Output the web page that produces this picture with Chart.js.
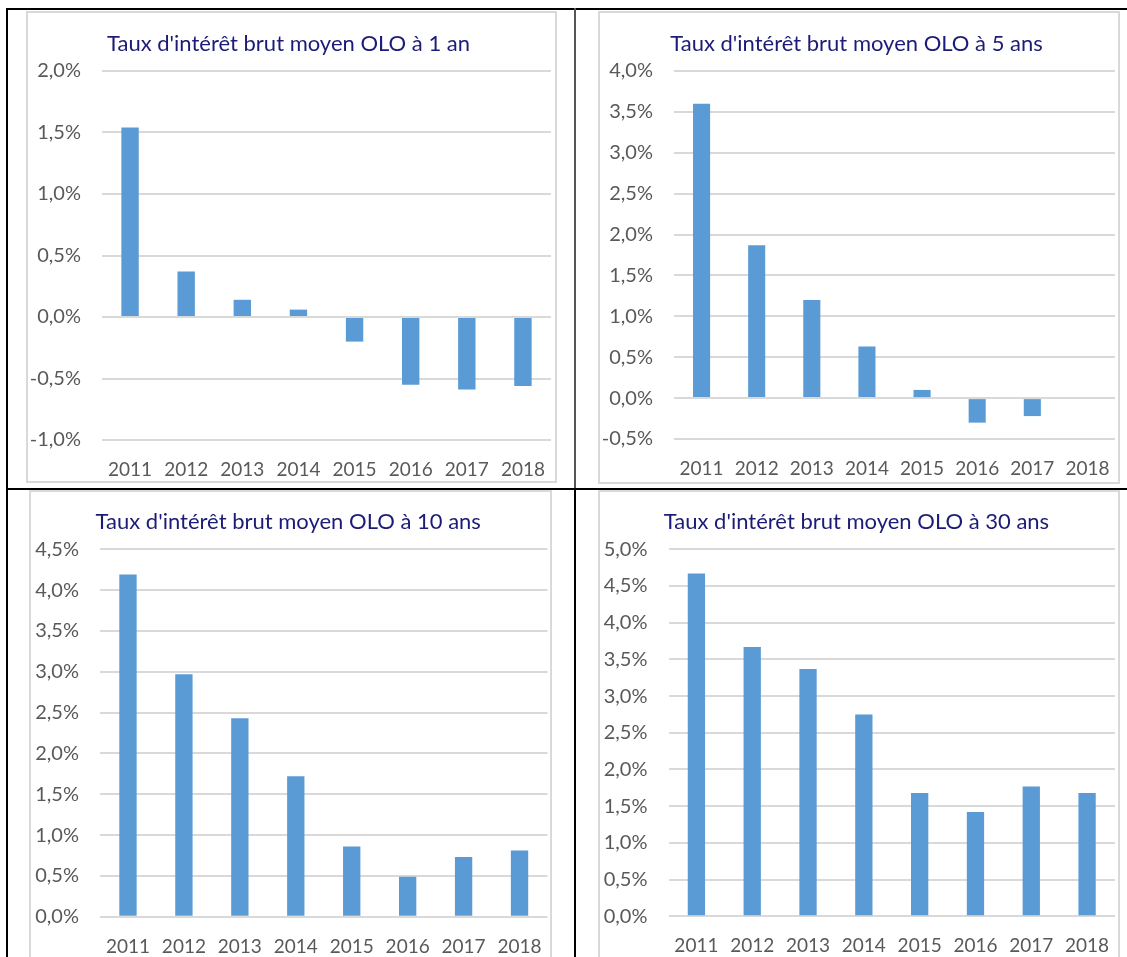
<!DOCTYPE html>
<html lang="fr">
<head>
<meta charset="utf-8">
<script src="https://cdn.jsdelivr.net/npm/chart.js@4.4.1/dist/chart.umd.min.js"></script>
<style>
    html, body { margin: 0; padding: 0; background: #fff; width: 1127px; height: 957px; overflow: hidden; }
    .trait { position: absolute; background: #000; }
    .cadre { position: absolute; box-sizing: border-box; border: 2px solid #d9d9d9; }
    .graph { position: absolute; }
</style>
</head>
<body>
<div class="trait" style="left:6px;top:8px;width:1121px;height:2px"></div>
<div class="trait" style="left:6px;top:8px;width:2px;height:949px"></div>
<div class="trait" style="left:574px;top:8px;width:2px;height:480px;background:#555"></div>
<div class="trait" style="left:574px;top:488px;width:2px;height:469px"></div>
<div class="trait" style="left:6px;top:488px;width:1121px;height:2px"></div>

<script>
const annees = ["2011", "2012", "2013", "2014", "2015", "2016", "2017", "2018"];

// taux en %
const taux1an   = [1.54, 0.37, 0.14, 0.06, -0.20, -0.55, -0.59, -0.56];
const taux5ans  = [3.60, 1.87, 1.20, 0.63, 0.10, -0.30, -0.22, 0];
const taux10ans = [4.19, 2.97, 2.43, 1.72, 0.86, 0.49, 0.73, 0.81];
const taux30ans = [4.67, 3.67, 3.37, 2.75, 1.68, 1.42, 1.77, 1.68];

// bornes de l'axe vertical (pas de 0,5 %)
const axe1an   = [-1, 2];
const axe5ans  = [-0.5, 4];
const axe10ans = [0, 4.5];
const axe30ans = [0, 5];

const titres = [
    "Taux d'intérêt brut moyen OLO à 1 an",
    "Taux d'intérêt brut moyen OLO à 5 ans",
    "Taux d'intérêt brut moyen OLO à 10 ans",
    "Taux d'intérêt brut moyen OLO à 30 ans"
];

// cadre gris et zone de tracé de chaque graphique, en px dans la page
const panneaux = [
    { titre: titres[0], valeurs: taux1an,   axe: axe1an,   cadre: {l: 26,  t: 11,  r: 557,  b: 483},  trace: {l: 102,   t: 71,    r: 551,   b: 440},   titreY: 43.7 },
    { titre: titres[1], valeurs: taux5ans,  axe: axe5ans,  cadre: {l: 598, t: 11,  r: 1120, b: 484},  trace: {l: 674,   t: 71,    r: 1115,  b: 439},   titreY: 43.7 },
    { titre: titres[2], valeurs: taux10ans, axe: axe10ans, cadre: {l: 29,  t: 490, r: 552,  b: 1000}, trace: {l: 100,   t: 549.3, r: 547.5, b: 916.7}, titreY: 522.2 },
    { titre: titres[3], valeurs: taux30ans, axe: axe30ans, cadre: {l: 598, t: 490, r: 1120, b: 1000}, trace: {l: 668.5, t: 549.3, r: 1115,  b: 916.3}, titreY: 522.2 }
];

const police = "Lato";
const gris = "#595959";
const tailleTitre = 22;

function placer(el, c) {
    el.style.left = c.l + "px";
    el.style.top = c.t + "px";
    el.style.width = (c.r - c.l) + "px";
    el.style.height = (c.b - c.t) + "px";
}

function creerGraphique(p) {
    const cadre = document.createElement("div");
    cadre.className = "cadre";
    placer(cadre, p.cadre);
    const boite = document.createElement("div");
    boite.className = "graph";
    placer(boite, p.cadre);
    const canvas = document.createElement("canvas");
    boite.appendChild(canvas);
    document.body.append(cadre, boite);

    const H = p.cadre.b - p.cadre.t;
    const hTitre = tailleTitre * 1.2;
    const padHaut = p.titreY - p.cadre.t - hTitre / 2;
    const padBas = p.trace.t - p.cadre.t - hTitre - padHaut;

    new Chart(canvas, {
        type: "bar",
        data: {
            labels: annees,
            datasets: [{
                data: p.valeurs,
                backgroundColor: "#5b9bd5",
                borderWidth: 0,
                barPercentage: 0.31,
                categoryPercentage: 1
            }]
        },
        options: {
            responsive: true,
            maintainAspectRatio: false,
            animation: false,
            layout: { padding: { left: 0, top: 0, bottom: 0, right: p.cadre.r - p.trace.r } },
            plugins: {
                legend: { display: false },
                tooltip: { enabled: false },
                title: {
                    display: true,
                    text: p.titre,
                    color: "#1c1c78",
                    font: { family: police, size: tailleTitre, weight: "normal", lineHeight: 1.2 },
                    padding: { top: padHaut, bottom: padBas }
                }
            },
            scales: {
                x: {
                    grid: { display: false, drawTicks: true, tickLength: 30 - 11.4 },
                    border: { display: false },
                    ticks: { padding: 0, color: gris, font: { family: police, size: 19 }, maxRotation: 0, autoSkip: false },
                    afterFit: s => { s.height = H - (p.trace.b - p.cadre.t); }
                },
                y: {
                    min: p.axe[0],
                    max: p.axe[1],
                    grid: { color: "#d9d9d9", lineWidth: 2, drawTicks: false },
                    border: { display: false },
                    ticks: {
                        stepSize: 0.5,
                        padding: 21,
                        color: gris,
                        font: { family: police, size: 20 },
                        callback: v => v.toFixed(1).replace(".", ",") + "%"
                    },
                    afterFit: s => { s.width = p.trace.l - p.cadre.l; }
                }
            }
        }
    });
}

panneaux.forEach(creerGraphique);
</script>
</body>
</html>
